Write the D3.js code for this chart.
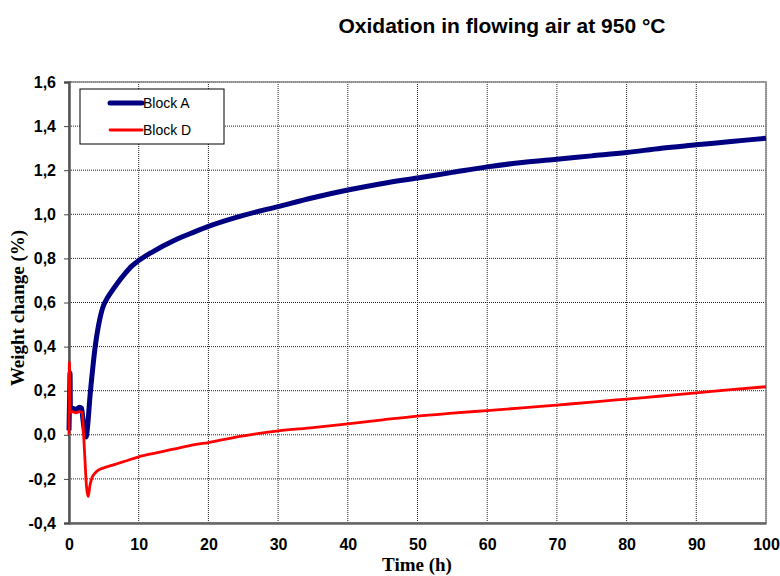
<!DOCTYPE html>
<html>
<head>
<meta charset="utf-8">
<script src="https://cdn.jsdelivr.net/npm/d3@7"></script>
<style>
  body { margin: 0; background: #fff; }
  svg { display: block; }
</style>
</head>
<body>
<div id="myGraph"></div>
<script>
// data
var timeA = [0, 0.1, 0.15, 0.2, 0.5, 1.0, 1.5, 1.8, 2.0, 2.2, 2.45, 2.7, 3.0, 3.4, 3.8, 4.2, 4.6, 5.0, 5.5, 6, 7, 8, 9, 10, 12, 15, 18, 20, 25, 30, 35, 40, 45, 50, 55, 60, 65, 70, 75, 80, 85, 90, 95, 100];
var blockA = [0.02, 0.2, 0.28, 0.11, 0.12, 0.115, 0.125, 0.12, 0.07, 0.02, -0.01, 0.05, 0.17, 0.30, 0.41, 0.49, 0.55, 0.59, 0.62, 0.645, 0.69, 0.73, 0.765, 0.79, 0.83, 0.88, 0.92, 0.945, 0.995, 1.035, 1.075, 1.11, 1.14, 1.165, 1.19, 1.215, 1.235, 1.25, 1.265, 1.28, 1.3, 1.315, 1.33, 1.345];

var timeD = [0, 0.05, 0.15, 0.5, 1.0, 1.5, 1.9, 2.1, 2.3, 2.5, 2.75, 3.0, 3.3, 3.7, 4.2, 5, 6, 7, 8, 10, 12, 15, 18, 20, 25, 30, 35, 40, 45, 50, 55, 60, 65, 70, 75, 80, 85, 90, 95, 100];
var blockD = [0.0, 0.33, 0.10, 0.105, 0.10, 0.105, 0.10, 0.0, -0.12, -0.23, -0.28, -0.23, -0.195, -0.175, -0.16, -0.15, -0.14, -0.13, -0.12, -0.10, -0.085, -0.065, -0.045, -0.035, -0.005, 0.018, 0.033, 0.05, 0.068, 0.085, 0.098, 0.11, 0.122, 0.135, 0.148, 0.162, 0.176, 0.19, 0.205, 0.218];

var xTicks = [0, 10, 20, 30, 40, 50, 60, 70, 80, 90, 100];
var yTicks = [-0.4, -0.2, 0, 0.2, 0.4, 0.6, 0.8, 1.0, 1.2, 1.4, 1.6];
var seriesNames = ["Block A", "Block D"];

$chart();

function $chart(){
    var width = 780, height = 576;
    var pLeft = 69, pRight = 766, pTop = 82, pBottom = 523;
    var sans = "'Liberation Sans', Arial, sans-serif";
    var serif = "'Liberation Serif', 'Times New Roman', serif";

    var svg = d3.select("#myGraph").append("svg")
        .attr("width", width)
        .attr("height", height);

    var x = d3.scaleLinear().domain([0, 100]).range([pLeft, pRight]);
    var y = d3.scaleLinear().domain([-0.4, 1.6]).range([pBottom, pTop]);

    var fmt = function(d){ return d3.format(".1f")(d).replace(".", ",").replace("−", "-"); };

    // gridlines
    svg.append("g").selectAll("line").data(yTicks.slice(1)).enter().append("line")
        .attr("x1", pLeft).attr("x2", pRight)
        .attr("y1", function(d){ return y(d); }).attr("y2", function(d){ return y(d); })
        .attr("stroke", "#222").attr("stroke-width", 1).attr("stroke-dasharray", "1,1");
    svg.append("g").selectAll("line").data(xTicks.slice(1)).enter().append("line")
        .attr("y1", pTop).attr("y2", pBottom)
        .attr("x1", function(d){ return x(d); }).attr("x2", function(d){ return x(d); })
        .attr("stroke", "#222").attr("stroke-width", 1).attr("stroke-dasharray", "1,1");

    // plot border
    svg.append("rect")
        .attr("x", pLeft).attr("y", pTop)
        .attr("width", pRight - pLeft).attr("height", pBottom - pTop)
        .attr("fill", "none").attr("stroke", "#888").attr("stroke-width", 1.5);

    // axes
    var yAxis = d3.axisLeft(y).tickValues(yTicks).tickSize(5).tickFormat(fmt);
    var xAxis = d3.axisBottom(x).tickValues(xTicks).tickSize(0).tickFormat(d3.format("d"));

    var gy = svg.append("g").attr("transform", "translate(" + pLeft + ",0)").call(yAxis);
    gy.select(".domain").attr("stroke", "#555").attr("stroke-width", 2.5);
    gy.selectAll(".tick line").attr("stroke", "#444");
    gy.selectAll("text")
        .attr("x", -13)
        .style("font-family", sans)
        .style("font-size", "16px").style("font-weight", "bold").attr("fill", "#000");

    var gx = svg.append("g").attr("transform", "translate(0," + pBottom + ")").call(xAxis);
    gx.select(".domain").attr("stroke", "#666").attr("stroke-width", 2.5);
    gx.selectAll("text")
        .attr("y", 15.5)
        .style("font-family", sans)
        .style("font-size", "16px").style("font-weight", "bold").attr("fill", "#000");

    // lines
    var line = d3.line()
        .x(function(d){ return x(d[0]); })
        .y(function(d){ return y(d[1]); })
        .curve(d3.curveMonotoneX);

    var dataA = timeA.map(function(t, i){ return [t, blockA[i]]; });
    var dataD = timeD.map(function(t, i){ return [t, blockD[i]]; });

    svg.append("path").datum(dataA)
        .attr("d", line).attr("fill", "none")
        .attr("stroke", "#000080").attr("stroke-width", 5)
        .attr("stroke-linejoin", "round");
    svg.append("path").datum(dataD)
        .attr("d", line).attr("fill", "none")
        .attr("stroke", "#ff0000").attr("stroke-width", 2.8)
        .attr("stroke-linejoin", "round");

    // legend
    var legend = svg.append("g");
    legend.append("rect")
        .attr("x", 80).attr("y", 89).attr("width", 144).attr("height", 55)
        .attr("fill", "#fff").attr("stroke", "#000").attr("stroke-width", 1);
    var lg = legend.selectAll(".item").data(seriesNames).enter().append("g").attr("class", "item");
    lg.append("line")
        .attr("x1", 110).attr("x2", 142)
        .attr("y1", function(d, i){ return 103 + i * 27; })
        .attr("y2", function(d, i){ return 103 + i * 27; })
        .attr("stroke", function(d, i){ return i == 0 ? "#000080" : "#ff0000"; })
        .attr("stroke-width", function(d, i){ return i == 0 ? 5 : 2.8; })
        .attr("stroke-linecap", "round");
    lg.append("text")
        .attr("x", 143)
        .attr("y", function(d, i){ return 108 + i * 27; })
        .style("font-family", sans)
        .style("font-size", "14px")
        .text(function(d){ return d; });

    // titles
    svg.append("text")
        .attr("x", 502).attr("y", 33)
        .attr("text-anchor", "middle")
        .style("font-family", sans)
        .style("font-size", "21px").style("font-weight", "bold")
        .text("Oxidation in flowing air at 950 °C");

    svg.append("text")
        .attr("x", 417).attr("y", 571)
        .attr("text-anchor", "middle")
        .style("font-family", serif)
        .style("font-size", "19px").style("font-weight", "bold")
        .text("Time (h)");

    svg.append("text")
        .attr("transform", "translate(24,308) rotate(-90)")
        .attr("text-anchor", "middle")
        .style("font-family", serif)
        .style("font-size", "19px").style("font-weight", "bold")
        .text("Weight change (%)");
}
</script>
</body>
</html>
